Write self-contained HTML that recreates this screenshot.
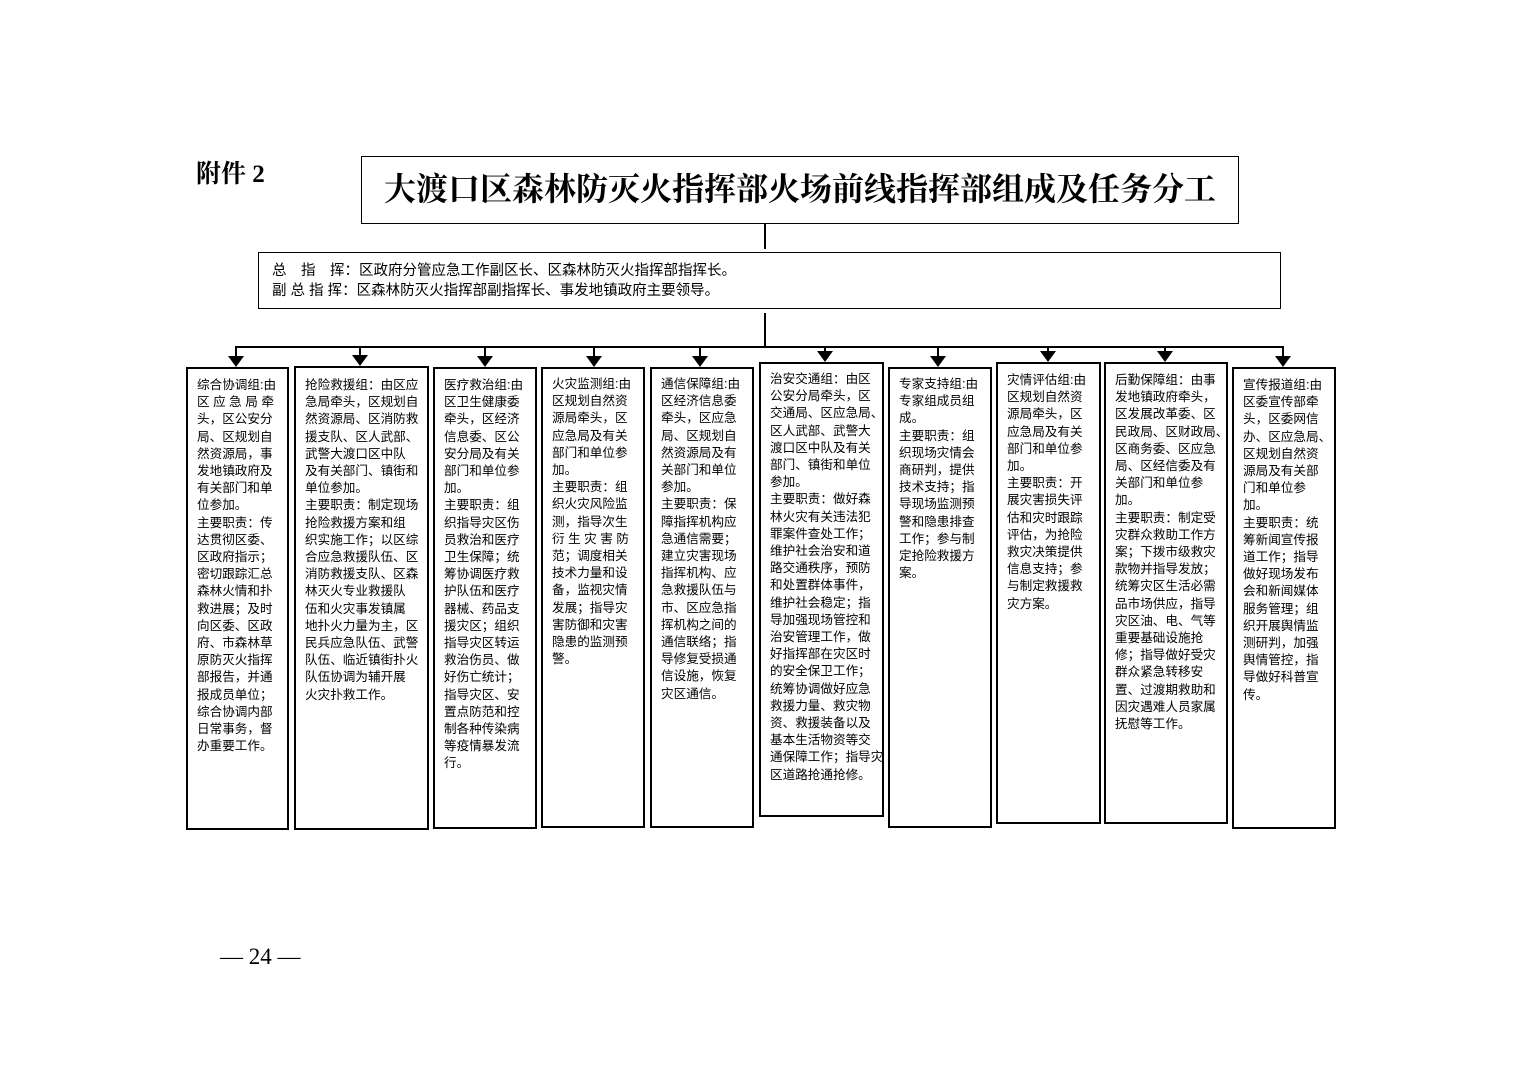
<!DOCTYPE html>
<html><head><meta charset="utf-8"><style>
body{margin:0;width:1520px;height:1074px;background:#fff;position:relative;overflow:hidden;font-family:"Liberation Sans","Noto Sans CJK SC",sans-serif;color:#000}
.a{position:absolute}
.box{position:absolute;border:2px solid #000;box-sizing:border-box;font-size:12.6px;line-height:17.2px;padding-left:9px;white-space:nowrap}
.tri{position:absolute;width:0;height:0;border-left:8px solid transparent;border-right:8px solid transparent;border-top:11px solid #000}
.ln{position:absolute;background:#000}
</style></head><body>
<div class="a" style="left:196px;top:154px;font-family:'Liberation Serif','Noto Serif CJK SC',serif;font-size:25px;font-weight:bold">附件 2</div>
<div class="a" style="left:361px;top:156px;width:878px;height:68px;border:1.5px solid #000;box-sizing:border-box;text-align:center;font-family:'Liberation Serif','Noto Serif CJK SC',serif;font-weight:bold;font-size:32px;line-height:64px">大渡口区森林防灭火指挥部火场前线指挥部组成及任务分工</div>
<div class="ln" style="left:764px;top:224px;width:1.5px;height:25px"></div>
<div class="a" style="left:258px;top:252px;width:1023px;height:57px;border:1.5px solid #000;box-sizing:border-box;font-size:14.5px;line-height:20px;padding:8px 0 0 13px">总　指　挥：区政府分管应急工作副区长、区森林防灭火指挥部指挥长。<br>副 总 指 挥：区森林防灭火指挥部副指挥长、事发地镇政府主要领导。</div>
<div class="ln" style="left:764px;top:313px;width:1.5px;height:34px"></div>
<div class="ln" style="left:235px;top:346px;width:1049px;height:2px"></div>

<div class="box" style="left:186px;top:367px;width:103px;height:463px;padding-top:8px">综合协调组:由<br>区 应 急 局 牵<br>头，区公安分<br>局、区规划自<br>然资源局，事<br>发地镇政府及<br>有关部门和单<br>位参加。<br>主要职责：传<br>达贯彻区委、<br>区政府指示；<br>密切跟踪汇总<br>森林火情和扑<br>救进展；及时<br>向区委、区政<br>府、市森林草<br>原防灭火指挥<br>部报告，并通<br>报成员单位；<br>综合协调内部<br>日常事务，督<br>办重要工作。</div>
<div class="box" style="left:294px;top:366px;width:135px;height:464px;padding-top:9px">抢险救援组：由区应<br>急局牵头，区规划自<br>然资源局、区消防救<br>援支队、区人武部、<br>武警大渡口区中队<br>及有关部门、镇街和<br>单位参加。<br>主要职责：制定现场<br>抢险救援方案和组<br>织实施工作；以区综<br>合应急救援队伍、区<br>消防救援支队、区森<br>林灭火专业救援队<br>伍和火灾事发镇属<br>地扑火力量为主，区<br>民兵应急队伍、武警<br>队伍、临近镇街扑火<br>队伍协调为辅开展<br>火灾扑救工作。</div>
<div class="box" style="left:433px;top:367px;width:104px;height:462px;padding-top:8px">医疗救治组:由<br>区卫生健康委<br>牵头，区经济<br>信息委、区公<br>安分局及有关<br>部门和单位参<br>加。<br>主要职责：组<br>织指导灾区伤<br>员救治和医疗<br>卫生保障；统<br>筹协调医疗救<br>护队伍和医疗<br>器械、药品支<br>援灾区；组织<br>指导灾区转运<br>救治伤员、做<br>好伤亡统计；<br>指导灾区、安<br>置点防范和控<br>制各种传染病<br>等疫情暴发流<br>行。</div>
<div class="box" style="left:541px;top:367px;width:104px;height:461px;padding-top:7px">火灾监测组:由<br>区规划自然资<br>源局牵头，区<br>应急局及有关<br>部门和单位参<br>加。<br>主要职责：组<br>织火灾风险监<br>测，指导次生<br>衍 生 灾 害 防<br>范；调度相关<br>技术力量和设<br>备，监视灾情<br>发展；指导灾<br>害防御和灾害<br>隐患的监测预<br>警。</div>
<div class="box" style="left:650px;top:367px;width:104px;height:461px;padding-top:7px">通信保障组:由<br>区经济信息委<br>牵头，区应急<br>局、区规划自<br>然资源局及有<br>关部门和单位<br>参加。<br>主要职责：保<br>障指挥机构应<br>急通信需要；<br>建立灾害现场<br>指挥机构、应<br>急救援队伍与<br>市、区应急指<br>挥机构之间的<br>通信联络；指<br>导修复受损通<br>信设施，恢复<br>灾区通信。</div>
<div class="box" style="left:759px;top:362px;width:125px;height:455px;padding-top:7px">治安交通组：由区<br>公安分局牵头，区<br>交通局、区应急局、<br>区人武部、武警大<br>渡口区中队及有关<br>部门、镇街和单位<br>参加。<br>主要职责：做好森<br>林火灾有关违法犯<br>罪案件查处工作；<br>维护社会治安和道<br>路交通秩序，预防<br>和处置群体事件，<br>维护社会稳定；指<br>导加强现场管控和<br>治安管理工作，做<br>好指挥部在灾区时<br>的安全保卫工作；<br>统筹协调做好应急<br>救援力量、救灾物<br>资、救援装备以及<br>基本生活物资等交<br>通保障工作；指导灾<br>区道路抢通抢修。</div>
<div class="box" style="left:888px;top:367px;width:104px;height:461px;padding-top:7px">专家支持组:由<br>专家组成员组<br>成。<br>主要职责：组<br>织现场灾情会<br>商研判，提供<br>技术支持；指<br>导现场监测预<br>警和隐患排查<br>工作；参与制<br>定抢险救援方<br>案。</div>
<div class="box" style="left:996px;top:362px;width:105px;height:462px;padding-top:8px">灾情评估组:由<br>区规划自然资<br>源局牵头，区<br>应急局及有关<br>部门和单位参<br>加。<br>主要职责：开<br>展灾害损失评<br>估和灾时跟踪<br>评估，为抢险<br>救灾决策提供<br>信息支持；参<br>与制定救援救<br>灾方案。</div>
<div class="box" style="left:1104px;top:362px;width:124px;height:462px;padding-top:8px">后勤保障组：由事<br>发地镇政府牵头，<br>区发展改革委、区<br>民政局、区财政局、<br>区商务委、区应急<br>局、区经信委及有<br>关部门和单位参<br>加。<br>主要职责：制定受<br>灾群众救助工作方<br>案；下拨市级救灾<br>款物并指导发放；<br>统筹灾区生活必需<br>品市场供应，指导<br>灾区油、电、气等<br>重要基础设施抢<br>修；指导做好受灾<br>群众紧急转移安<br>置、过渡期救助和<br>因灾遇难人员家属<br>抚慰等工作。</div>
<div class="box" style="left:1232px;top:367px;width:104px;height:462px;padding-top:8px">宣传报道组:由<br>区委宣传部牵<br>头，区委网信<br>办、区应急局、<br>区规划自然资<br>源局及有关部<br>门和单位参<br>加。<br>主要职责：统<br>筹新闻宣传报<br>道工作；指导<br>做好现场发布<br>会和新闻媒体<br>服务管理；组<br>织开展舆情监<br>测研判，加强<br>舆情管控，指<br>导做好科普宣<br>传。</div>

<div class="ln" style="left:235px;top:347px;width:2px;height:10px"></div><div class="tri" style="left:228px;top:356px"></div>
<div class="ln" style="left:359px;top:347px;width:2px;height:10px"></div><div class="tri" style="left:352px;top:355px"></div>
<div class="ln" style="left:484px;top:347px;width:2px;height:10px"></div><div class="tri" style="left:477px;top:356px"></div>
<div class="ln" style="left:593px;top:347px;width:2px;height:10px"></div><div class="tri" style="left:586px;top:356px"></div>
<div class="ln" style="left:699px;top:347px;width:2px;height:10px"></div><div class="tri" style="left:692px;top:356px"></div>
<div class="ln" style="left:824px;top:347px;width:2px;height:5px"></div><div class="tri" style="left:817px;top:351px"></div>
<div class="ln" style="left:937px;top:347px;width:2px;height:10px"></div><div class="tri" style="left:930px;top:356px"></div>
<div class="ln" style="left:1047px;top:347px;width:2px;height:5px"></div><div class="tri" style="left:1040px;top:351px"></div>
<div class="ln" style="left:1164px;top:347px;width:2px;height:5px"></div><div class="tri" style="left:1157px;top:351px"></div>
<div class="ln" style="left:1282px;top:347px;width:2px;height:10px"></div><div class="tri" style="left:1275px;top:356px"></div>

<div class="a" style="left:220px;top:944px;font-family:'Liberation Serif','Noto Serif CJK SC',serif;font-size:23px">— 24 —</div>
</body></html>
